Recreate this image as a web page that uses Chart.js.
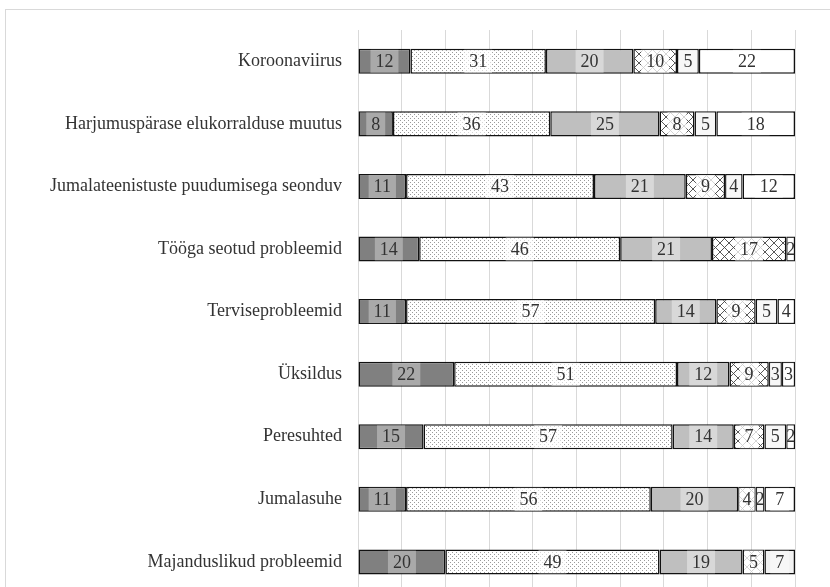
<!DOCTYPE html>
<html>
<head>
<meta charset="utf-8">
<script src="https://cdn.jsdelivr.net/npm/chart.js@4"></script>
<style>
  html, body { margin: 0; padding: 0; background: #fff; overflow: hidden; width: 830px; height: 587px; }
  .frame { position: absolute; left: 5px; top: 9px; width: 860px; height: 640px; border: 1px solid #d9d9d9; }
  #chart { position: absolute; left: 0; top: 0; }
</style>
</head>
<body>
<div class="frame"></div>
<canvas id="chart" width="830" height="620"></canvas>
<script>
const categories = [
    'Koroonaviirus',
    'Harjumuspärase elukorralduse muutus',
    'Jumalateenistuste puudumisega seonduv',
    'Tööga seotud probleemid',
    'Terviseprobleemid',
    'Üksildus',
    'Peresuhted',
    'Jumalasuhe',
    'Majanduslikud probleemid'
];
const series1 = [12, 8, 11, 14, 11, 22, 15, 11, 20];
const series2 = [31, 36, 43, 46, 57, 51, 57, 56, 49];
const series3 = [20, 25, 21, 21, 14, 12, 14, 20, 19];
const series4 = [10, 8, 9, 17, 9, 9, 7, 4, 5];
const series5 = [5, 5, 4, null, 5, 3, 5, 2, 7];
const series6 = [22, 18, 12, 2, 4, 3, 2, 7, null];
const xTicks = [0, 10, 20, 30, 40, 50, 60, 70, 80, 90, 100];

// pattern fills
function dotPattern() {
    const c = document.createElement('canvas');
    c.width = 4; c.height = 4;
    const g = c.getContext('2d');
    g.fillStyle = '#fff';
    g.fillRect(0, 0, 4, 4);
    g.fillStyle = '#9a9a9a';
    g.fillRect(0, 0, 1, 1);
    g.fillRect(2, 2, 1, 1);
    return g.createPattern(c, 'repeat');
}

function hatchPattern() {
    const c = document.createElement('canvas');
    c.width = 9; c.height = 9;
    const g = c.getContext('2d');
    g.fillStyle = '#fff';
    g.fillRect(0, 0, 9, 9);
    g.strokeStyle = '#444';
    g.lineWidth = 0.9;
    g.beginPath();
    g.moveTo(0, 9); g.lineTo(9, 0);
    g.moveTo(0, 0); g.lineTo(9, 9);
    g.stroke();
    return g.createPattern(c, 'repeat');
}

// label box opacity per series (hatched one is washed out more)
const boxAlpha = [0.32, 0.6, 0.4, 0.75, 0.4, 0.4];

const segLabels = {
    id: 'segLabels',
    afterDatasetsDraw(chart) {
        const ctx = chart.ctx;
        ctx.save();
        ctx.font = '18px "Liberation Serif"';
        ctx.textAlign = 'center';
        ctx.textBaseline = 'middle';
        chart.data.datasets.forEach((ds, i) => {
            const meta = chart.getDatasetMeta(i);
            meta.data.forEach((bar, j) => {
                const v = ds.data[j];
                if (v == null) return;
                const p = bar.getProps(['x', 'y', 'base', 'height'], true);
                const lo = Math.min(p.x, p.base) + 1;
                const hi = Math.max(p.x, p.base) - 1;
                const cx = (p.x + p.base) / 2;
                const txt = String(v);
                const w = ctx.measureText(txt).width + 10;
                const l = Math.max(cx - w / 2, lo);
                const r = Math.min(cx + w / 2, hi);
                ctx.fillStyle = 'rgba(255,255,255,' + boxAlpha[i] + ')';
                ctx.fillRect(l, p.y - p.height / 2 + 1, r - l, p.height - 2);
                ctx.fillStyle = '#333';
                ctx.fillText(txt, cx, p.y + 1);
            });
        });
        ctx.restore();
    }
};

document.addEventListener('DOMContentLoaded', () => {
    const ctx = document.getElementById('chart').getContext('2d');
    const fills = ['#808080', dotPattern(), '#bfbfbf', hatchPattern(), '#f2f2f2', '#ffffff'];
    const values = [series1, series2, series3, series4, series5, series6];

    new Chart(ctx, {
        type: 'bar',
        data: {
            labels: categories,
            datasets: values.map((d, i) => ({
                label: 'Seeria ' + (i + 1),
                data: d,
                backgroundColor: fills[i],
                borderColor: '#111',
                borderWidth: 1.5,
                borderSkipped: false,
                categoryPercentage: 1,
                barPercentage: 0.4
            }))
        },
        options: {
            indexAxis: 'y',
            responsive: false,
            animation: false,
            layout: { padding: { top: 30, right: 35, bottom: 9, left: 0 } },
            plugins: {
                legend: { display: false },
                tooltip: { enabled: false }
            },
            scales: {
                x: {
                    stacked: true,
                    min: 0,
                    max: 100,
                    afterBuildTicks: (scale) => { scale.ticks = xTicks.map(v => ({ value: v })); },
                    ticks: { display: false },
                    grid: { color: '#d9d9d9', drawTicks: false },
                    border: { display: false }
                },
                y: {
                    stacked: true,
                    afterFit: (scale) => { scale.width = 358; },
                    ticks: {
                        color: '#333',
                        padding: 16,
                        font: { family: '"Liberation Serif"', size: 18 }
                    },
                    grid: { display: false, drawTicks: false },
                    border: { display: false }
                }
            }
        },
        plugins: [segLabels]
    });
});
</script>
</body>
</html>
